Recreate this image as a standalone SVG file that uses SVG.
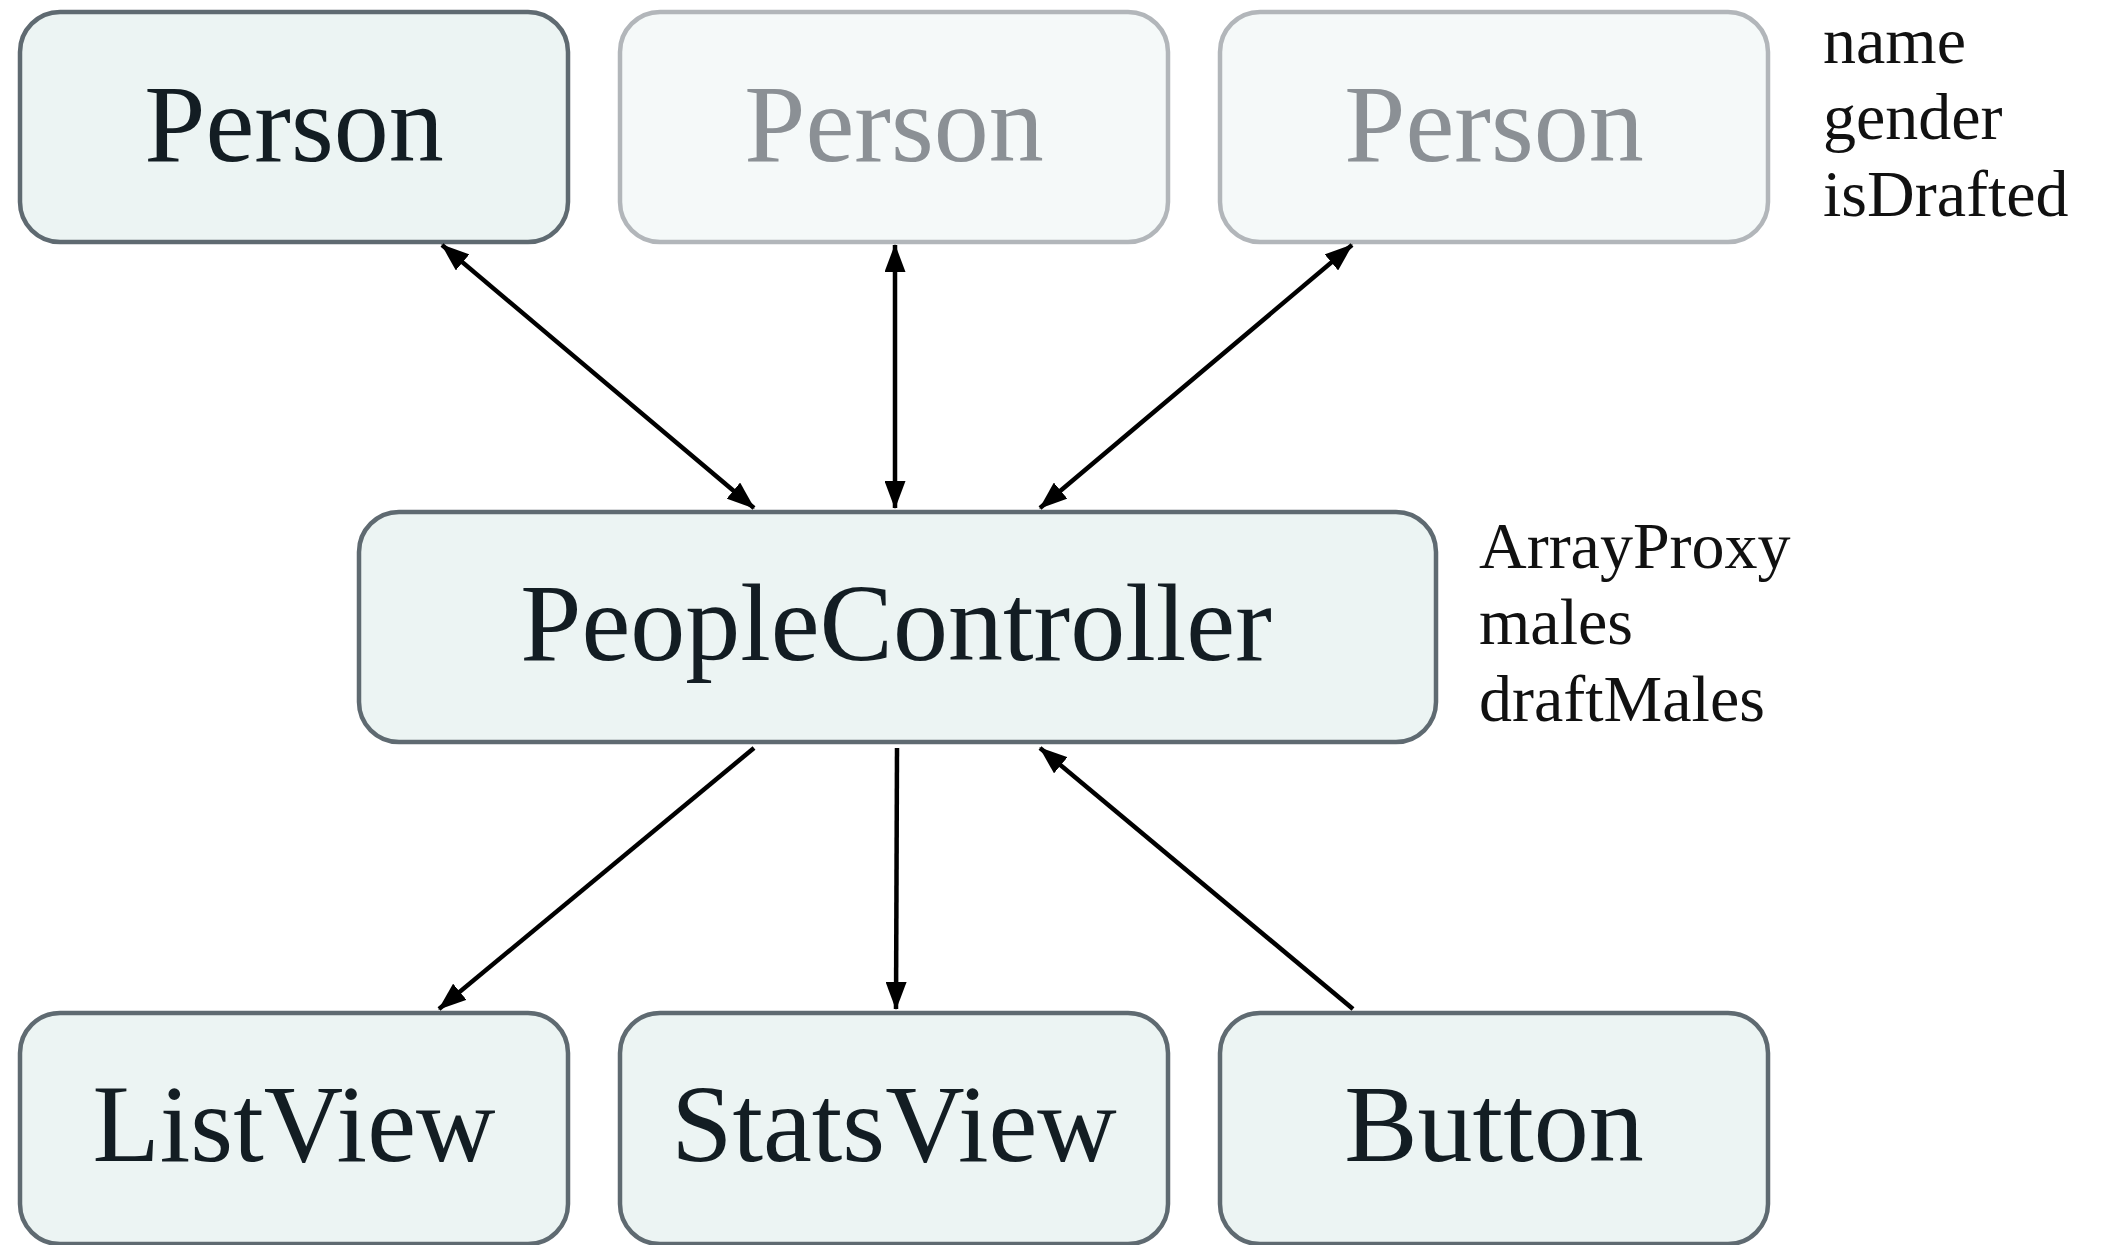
<svg xmlns="http://www.w3.org/2000/svg" width="2105" height="1245" viewBox="0 0 2105 1245">
<style>
.box{fill:#ECF4F3;stroke:#5F6A71;stroke-width:4.5}
.faded{fill:#F5F9F9;stroke:#B2B6BA;stroke-width:4.5}
.lbl{font-family:"Liberation Serif","Times New Roman",serif;font-size:110px;fill:#131D23;text-anchor:middle}
.flbl{font-family:"Liberation Serif","Times New Roman",serif;font-size:110px;fill:#8B9095;text-anchor:middle}
.note{font-family:"Liberation Serif","Times New Roman",serif;font-size:66px;fill:#111}
.edge{stroke:#000;stroke-width:4.5;fill:none}
</style>
<defs>
<marker id="ah" markerUnits="userSpaceOnUse" markerWidth="28" markerHeight="21" refX="27" refY="10.5" orient="auto-start-reverse" viewBox="0 0 28 21">
<path d="M0,0 L28,10.5 L0,21 z" fill="#000"/>
</marker>
</defs>
<rect width="2105" height="1245" fill="#fff"/>
<g id="person1"><rect class="box" x="20" y="12" width="548" height="230" rx="40"/><text class="lbl" x="294" y="161">Person</text></g>
<g id="person2"><rect class="faded" x="620" y="12" width="548" height="230" rx="40"/><text class="flbl" x="894" y="161">Person</text></g>
<g id="person3"><rect class="faded" x="1220" y="12" width="548" height="230" rx="40"/><text class="flbl" x="1494" y="161">Person</text></g>
<g id="person-props"><text class="note" x="1823" y="63">name</text><text class="note" x="1823" y="139">gender</text><text class="note" x="1823" y="216">isDrafted</text></g>
<g id="peopleController"><rect class="box" x="359" y="512" width="1077" height="230" rx="40"/><text class="lbl" x="896" y="660">PeopleController</text></g>
<g id="controller-props"><text class="note" x="1479" y="568">ArrayProxy</text><text class="note" x="1479" y="644">males</text><text class="note" x="1479" y="721">draftMales</text></g>
<g id="listView"><rect class="box" x="20" y="1013" width="548" height="231" rx="40"/><text class="lbl" x="294" y="1161">ListView</text></g>
<g id="statsView"><rect class="box" x="620" y="1013" width="548" height="231" rx="40"/><text class="lbl" x="894" y="1161">StatsView</text></g>
<g id="button"><rect class="box" x="1220" y="1013" width="548" height="231" rx="40"/><text class="lbl" x="1494" y="1161">Button</text></g>
<g id="connectors">
<line class="edge" x1="442" y1="245" x2="754" y2="508" marker-start="url(#ah)" marker-end="url(#ah)"/>
<line class="edge" x1="895" y1="245" x2="895" y2="508" marker-start="url(#ah)" marker-end="url(#ah)"/>
<line class="edge" x1="1352" y1="245" x2="1040" y2="508" marker-start="url(#ah)" marker-end="url(#ah)"/>
<line class="edge" x1="754" y1="748" x2="439" y2="1009" marker-end="url(#ah)"/>
<line class="edge" x1="897" y1="748" x2="896" y2="1009" marker-end="url(#ah)"/>
<line class="edge" x1="1353" y1="1009" x2="1040" y2="748" marker-end="url(#ah)"/>
</g>
</svg>
